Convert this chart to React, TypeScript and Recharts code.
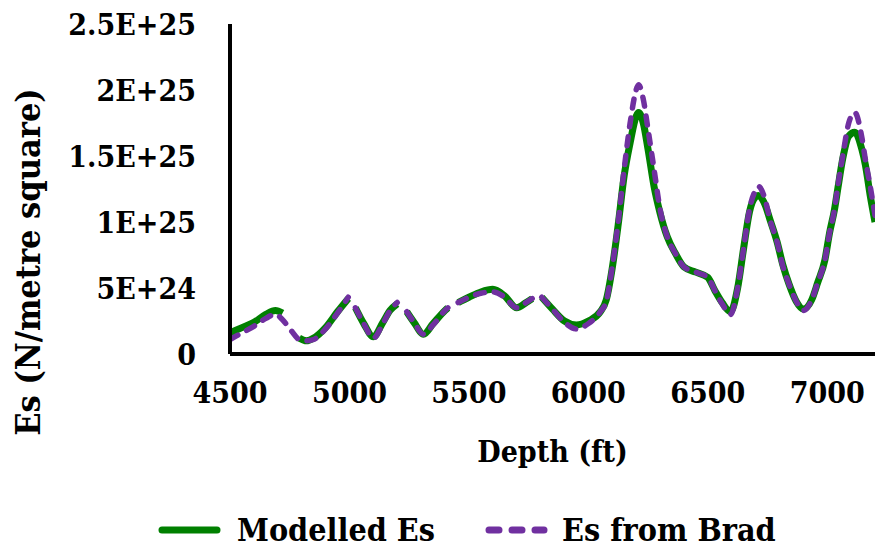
import React from "react";
import { LineChart, Line, XAxis, YAxis, Legend } from "recharts";

// Depth (ft) and Es values in units of 1E+24 N/m². null marks a gap in the series.
const depths = [
  4500, 4550, 4600, 4650, 4690, 4720, 4755, 4790, 4820, 4850, 4900, 4950, 4995, 5010,
  5025, 5060, 5100, 5140, 5170, 5200, 5220, 5240, 5270, 5310, 5350, 5400, 5412, 5432,
  5455, 5500, 5550, 5600, 5650, 5700, 5740, 5765, 5785, 5805, 5850, 5900, 5950, 6000,
  6050, 6075, 6100, 6125, 6150, 6175, 6200, 6210, 6230, 6250, 6275, 6300, 6330, 6365,
  6400, 6450, 6500, 6530, 6560, 6595, 6625, 6650, 6675, 6700, 6712, 6740, 6760, 6790,
  6815, 6840, 6870, 6900, 6935, 6960, 6990, 7010, 7030, 7045, 7065, 7090, 7115, 7145,
  7160, 7180, 7200,
];

const modelledEs = [
  1.6, 2.0, 2.4, 3.0, 3.3, 3.1, null, 1.2, 1.0, 1.2, 2.0, 3.2, 4.2, null,
  3.5, 2.3, 1.3, 2.4, 3.3, 3.8, null, 3.2, 2.4, 1.5, 2.3, 3.3, 3.5, null,
  3.9, 4.3, 4.7, 4.9, 4.4, 3.5, 3.9, 4.2, null, 4.3, 3.4, 2.5, 2.2, 2.5,
  3.2, 4.1, 6.5, 9.8, 13.5, 16.0, 18.0, 18.3, 17.5, 15.5, 12.7, 10.7, 8.9, 7.6,
  6.6, 6.2, 5.8, 4.8, 3.9, 3.2, 5.0, 8.0, 10.8, 11.9, 12.0, 11.3, 10.2, 8.5,
  6.7, 5.3, 4.0, 3.4, 4.1, 5.4, 7.1, 9.2, 10.9, 12.6, 14.8, 16.5, 16.8, 15.5,
  14.3, 12.0, 10.0,
];

const esFromBrad = [
  1.1, 1.6, 2.1, 2.7, 3.0, 2.6, 1.8, 1.1, 1.0, 1.1, 1.9, 3.1, 4.3, null,
  3.5, 2.3, 1.2, 2.3, 3.3, 3.9, null, 3.2, 2.4, 1.5, 2.2, 3.3, 3.5, null,
  3.9, 4.3, 4.6, 4.7, 4.3, 3.5, 3.9, 4.2, null, 4.3, 3.4, 2.4, 1.9, 2.3,
  3.2, 4.0, 6.6, 10.0, 14.0, 17.5, 20.0, 20.4, 19.3, 17.0, 14.0, 11.0, 8.9, 7.6,
  6.6, 6.2, 5.8, 4.8, 3.8, 3.0, 5.0, 8.0, 11.0, 12.4, 12.7, 11.7, 10.2, 8.5,
  6.6, 5.3, 4.0, 3.3, 4.1, 5.4, 7.1, 9.2, 10.9, 12.8, 15.0, 17.5, 18.3, 16.4,
  14.7, 12.7, 10.5,
];

const xTicks = [4500, 5000, 5500, 6000, 6500, 7000];
const yTicks = [0, 5, 10, 15, 20, 25];
const yTickLabels = ["0", "5E+24", "1E+25", "1.5E+25", "2E+25", "2.5E+25"];

const data = depths.map((depth, i) => ({
  depth,
  modelled: modelledEs[i],
  brad: esFromBrad[i],
}));

const FONT = "'DejaVu Serif Condensed', 'DejaVu Serif', serif";
const GREEN = "#008000";
const PURPLE = "#7030A0";

const textStyle = {
  fontFamily: FONT,
  fontWeight: 700,
  fontSize: 30,
  fontStretch: "condensed",
  fill: "#000",
};

const LegendContent = () => (
  <div
    style={{
      height: 77,
      display: "flex",
      alignItems: "center",
      paddingLeft: 158,
      paddingTop: 34,
      boxSizing: "border-box",
      fontFamily: FONT,
      fontStretch: "condensed",
      fontWeight: 700,
      fontSize: 32,
      color: "#000",
      whiteSpace: "nowrap",
    }}
  >
    <svg width={63} height={12}>
      <line x1={4} y1={6} x2={59} y2={6} stroke={GREEN} strokeWidth={7} strokeLinecap="round" />
    </svg>
    <span style={{ marginLeft: 16 }}>Modelled Es</span>
    <svg width={63} height={12} style={{ marginLeft: 50 }}>
      <line
        x1={4}
        y1={6}
        x2={59}
        y2={6}
        stroke={PURPLE}
        strokeWidth={7}
        strokeLinecap="round"
        strokeDasharray="10 13"
      />
    </svg>
    <span style={{ marginLeft: 14 }}>Es from Brad</span>
  </div>
);

const YLabel = () => (
  <text
    x={28}
    y={262}
    transform="rotate(-90 28 262)"
    textAnchor="middle"
    dominantBaseline="central"
    style={{ ...textStyle, fontSize: 34 }}
  >
    Es (N/metre square)
  </text>
);

export default function App() {
  return (
    <div style={{ position: "fixed", left: 0, top: 0, background: "#fff", fontFamily: FONT }}>
      <LineChart
        width={875}
        height={551}
        data={data}
        margin={{ top: 24, right: 0, left: 0, bottom: 0 }}
      >
        <XAxis
          dataKey="depth"
          type="number"
          domain={[4500, 7200]}
          allowDataOverflow
          ticks={xTicks}
          tickLine={false}
          tickMargin={22}
          height={120}
          axisLine={{ stroke: "#000", strokeWidth: 4 }}
          tick={textStyle}
          label={{
            value: "Depth (ft)",
            position: "insideBottom",
            offset: 12,
            style: textStyle,
          }}
        />
        <YAxis
          type="number"
          domain={[0, 25]}
          ticks={yTicks}
          tickFormatter={(v: number) => yTickLabels[yTicks.indexOf(v)]}
          tickLine={false}
          tickMargin={28}
          width={230}
          axisLine={{ stroke: "#000", strokeWidth: 4 }}
          tick={textStyle}
          label={<YLabel />}
        />
        <Legend verticalAlign="bottom" content={<LegendContent />} />
        <Line
          dataKey="modelled"
          name="Modelled Es"
          type="monotone"
          stroke={GREEN}
          strokeWidth={7}
          dot={false}
          isAnimationActive={false}
        />
        <Line
          dataKey="brad"
          name="Es from Brad"
          type="monotone"
          stroke={PURPLE}
          strokeWidth={5.5}
          strokeDasharray="9 10"
          strokeLinecap="round"
          dot={false}
          isAnimationActive={false}
        />
      </LineChart>
    </div>
  );
}
